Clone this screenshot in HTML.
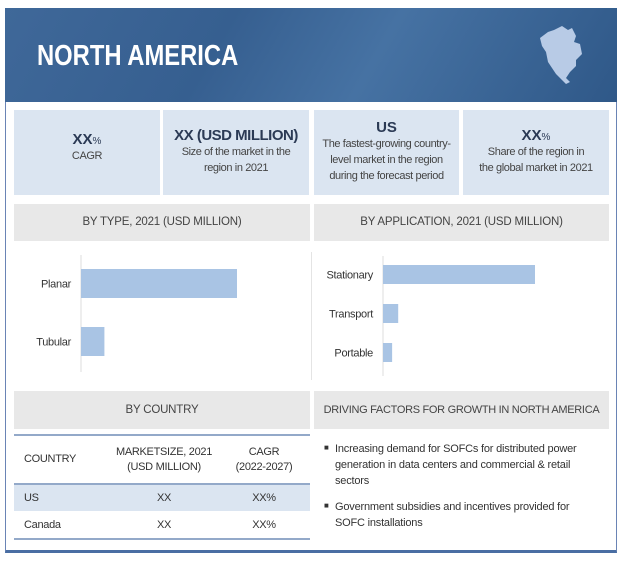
<!DOCTYPE html>
<html><head><meta charset="utf-8"><style>
*{margin:0;padding:0;box-sizing:border-box}
body{width:623px;height:561px;background:#fff;position:relative;overflow:hidden;font-family:"Liberation Sans Narrow","Liberation Sans",sans-serif;color:#333}
.a{position:absolute}
.box{position:absolute;background:#dbe5f1;text-align:center;color:#2b3a55;white-space:nowrap}
.box .s{font-size:11px;color:#444;line-height:16px;letter-spacing:-0.4px}
.hd{position:absolute;background:#e8e8e8;text-align:center;font-size:11.5px;color:#444;white-space:nowrap;letter-spacing:-0.2px}
</style></head><body>
<div class="a" style="left:5px;top:8px;width:612px;height:545px;border:1px solid #6a84b5;border-bottom:3px solid #4a6ea3"></div>
<div class="a" style="left:5px;top:8px;width:612px;height:94px;background:linear-gradient(120deg,#3f6899 0%,#365f90 35%,#4672a3 60%,#2f5888 100%)">
<div class="a" style="left:32px;top:32px;font-size:29px;font-weight:bold;color:#fff;white-space:nowrap;transform:scaleX(0.82);transform-origin:left top">NORTH AMERICA</div>
<svg class="a" style="left:527px;top:14px" width="56" height="66" viewBox="0 0 56 66"><path d="M8,16 L16,10 L22,8 L30,4 L36,8 L40,6 L44,14 L42,20 L48,22 L50,32 L44,38 L44,44 L38,50 L34,56 L38,60 L34,62 L28,56 L24,52 L20,46 L16,40 L14,30 L10,24 Z" fill="#b8cbe6"/></svg>
</div>
<div class="box" style="left:14px;top:110px;width:146px;height:85px"><div style="margin-top:21px;font-size:15px;font-weight:bold">XX<span style="font-size:10px;font-weight:normal">%</span></div><div class="s">CAGR</div></div>
<div class="box" style="left:163px;top:110px;width:146px;height:85px"><div style="margin-top:17px;font-size:15px;font-weight:bold;letter-spacing:-0.5px">XX (USD MILLION)</div><div class="s">Size of the market in the<br>region in 2021</div></div>
<div class="box" style="left:314px;top:110px;width:145px;height:85px"><div style="margin-top:9px;font-size:15px;font-weight:bold">US</div><div class="s">The fastest-growing country-<br>level market in the region<br>during the forecast period</div></div>
<div class="box" style="left:463px;top:110px;width:146px;height:85px"><div style="margin-top:17px;font-size:15px;font-weight:bold">XX<span style="font-size:10px;font-weight:normal">%</span></div><div class="s">Share of the region in<br>the global market in 2021</div></div>
<div class="hd" style="left:14px;top:204px;width:296px;height:37px;line-height:37px">BY TYPE, 2021 (USD MILLION)</div>
<div class="hd" style="left:314px;top:204px;width:295px;height:37px;line-height:37px">BY APPLICATION, 2021 (USD MILLION)</div>
<div class="a" style="left:311px;top:252px;width:1px;height:128px;background:#e4e4e4"></div>
<svg class="a" id="charts" style="left:0;top:0" width="623" height="561"></svg>
<div class="hd" style="left:14px;top:391px;width:296px;height:38px;line-height:38px">BY COUNTRY</div>
<div class="hd" style="left:314px;top:391px;width:295px;height:38px;line-height:38px;font-size:11px;letter-spacing:-0.3px">DRIVING FACTORS FOR GROWTH IN NORTH AMERICA</div>
<div class="a" style="left:14px;top:434px;width:296px;height:106px;border-top:2px solid #93a9c9;border-bottom:2px solid #93a9c9;font-size:11px;color:#333;white-space:nowrap;letter-spacing:-0.3px">
<div class="a" style="left:10px;top:17px">COUNTRY</div>
<div class="a" style="left:90px;width:120px;top:9px;text-align:center;line-height:15px">MARKETSIZE, 2021<br>(USD MILLION)</div>
<div class="a" style="left:210px;width:80px;top:9px;text-align:center;line-height:15px">CAGR<br>(2022-2027)</div>
<div class="a" style="left:0;top:47px;width:296px;height:28px;background:#dbe5f1;border-top:2px solid #93a9c9;line-height:26px"><span class="a" style="left:10px">US</span><span class="a" style="left:90px;width:120px;text-align:center">XX</span><span class="a" style="left:210px;width:80px;text-align:center">XX%</span></div>
<div class="a" style="left:0;top:75px;width:296px;height:29px;line-height:29px"><span class="a" style="left:10px">Canada</span><span class="a" style="left:90px;width:120px;text-align:center">XX</span><span class="a" style="left:210px;width:80px;text-align:center">XX%</span></div>
</div>
<div class="a" style="left:324px;top:441px;width:285px;font-size:11px;color:#333;line-height:16px;letter-spacing:-0.2px;white-space:nowrap">
<div style="position:relative;padding-left:11px"><span style="position:absolute;left:0;top:-1px;font-size:8px">■</span>Increasing demand for SOFCs for distributed power<br>generation in data centers and commercial &amp; retail<br>sectors</div>
<div style="position:relative;padding-left:11px;margin-top:10px"><span style="position:absolute;left:0;top:-1px;font-size:8px">■</span>Government subsidies and incentives provided for<br>SOFC installations</div>
</div>
<script>
const typeCats=["Planar","Tubular"];
const typeVals=[100,15];
const appCats=["Stationary","Transport","Portable"];
const appVals=[100,10,6];
const svg=document.getElementById('charts');
const NS="http://www.w3.org/2000/svg";
function mk(t,a){const e=document.createElementNS(NS,t);for(const k in a)e.setAttribute(k,a[k]);svg.appendChild(e);return e;}
function draw(cats,vals,x0,wMax,yStart,step,bh,axTop,axBot,pfx){
  const ax=mk('line',{x1:x0,x2:x0,y1:axTop,y2:axBot,stroke:'#ddd','stroke-width':1});
  
  
  const mx=Math.max(...vals);
  const xs=v=>v/mx*wMax;
  cats.forEach((c,i)=>{
    const y=yStart+i*step;
    const r=mk('rect',{x:x0,y:y,width:xs(vals[i]),height:bh,fill:'#a9c4e4'});
    
    
    const t=mk('text',{x:x0-10,y:y+bh/2+4,'text-anchor':'end','font-size':'11','letter-spacing':'-0.3','fill':'#333','font-family':'"Liberation Sans Narrow","Liberation Sans",sans-serif'});
    t.textContent=c;
    
    
  });
}
draw(typeCats,typeVals,81,156,269,58,29,255,372,'type');
draw(appCats,appVals,383,152,265,39,19,256,376,'app');
</script>
</body></html>
